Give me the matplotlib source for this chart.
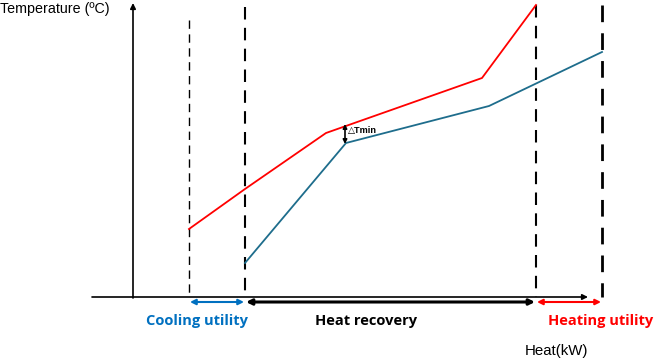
import matplotlib.pyplot as plt

# curve points, in the sketch's own heat / temperature units
hot_q = [189, 245, 326, 482, 536]
hot_t = [229, 189, 133, 78, 5]
cold_q = [245, 346, 489, 602]
cold_t = [263, 143, 106, 52]

# interval boundaries on the heat axis
bounds = [189, 245, 536, 602]
bound_tops = [20, 7, 5, 5]
bound_widths = [1.0, 1.5, 1.5, 2.0]

regions = ["Cooling utility", "Heat recovery", "Heating utility"]
region_colors = ["#0070C0", "black", "#FF0000"]
region_centers = [197, 366, 601]

HOT = "#FF0000"
COLD = "#1E6D8C"

fig = plt.figure(figsize=(6.55, 3.59), dpi=100)
ax = fig.add_axes([0, 0, 1, 1])
ax.set_xlim(0, 655)
ax.set_ylim(359, 0)
ax.axis("off")

# axes with arrowheads
ax.annotate("", xy=(133, 3), xytext=(133, 298),
            arrowprops=dict(arrowstyle="-|>", color="black", lw=1.2,
                            mutation_scale=8, shrinkA=0, shrinkB=0))
ax.annotate("", xy=(588, 297), xytext=(92, 297),
            arrowprops=dict(arrowstyle="-|>", color="black", lw=1.2,
                            mutation_scale=8, shrinkA=0, shrinkB=0))

for x, top, lw in zip(bounds, bound_tops, bound_widths):
    ax.plot([x, x], [top, 297], color="black", lw=lw, ls=(0, (6, 4)))

ax.plot(hot_q, hot_t, color=HOT, lw=1.3)
ax.plot(cold_q, cold_t, color=COLD, lw=1.3)

# delta T min marker
ax.annotate("", xy=(345, 124), xytext=(345, 144),
            arrowprops=dict(arrowstyle="<|-|>", color="black", lw=1.2,
                            mutation_scale=6, shrinkA=0, shrinkB=0))
ax.text(348, 130, "\u25b3Tmin", fontsize=6.6, fontweight="bold",
        family=["Liberation Sans", "DejaVu Sans"], va="center", ha="left")

# region arrows under the axis
for (a, b), c in zip(zip(bounds[:-1], bounds[1:]), region_colors):
    lw = 2.2 if c == "black" else 1.5
    ax.annotate("", xy=(a + 1, 302), xytext=(b - 1, 302),
                arrowprops=dict(arrowstyle="<|-|>", color=c, lw=lw,
                                mutation_scale=8, shrinkA=0, shrinkB=0))

for name, c, xc in zip(regions, region_colors, region_centers):
    ax.text(xc, 321, name, color=c, fontsize=10.5, fontweight="bold",
            family="Open Sans", ha="center", va="center")

ax.text(0, 9, "Temperature (\u00baC)", fontsize=10.3, family="Liberation Sans",
        ha="left", va="center")
ax.text(556, 351, "Heat(kW)", fontsize=10.8, family="Liberation Sans",
        ha="center", va="center")

fig.savefig("out.png", dpi=100)
